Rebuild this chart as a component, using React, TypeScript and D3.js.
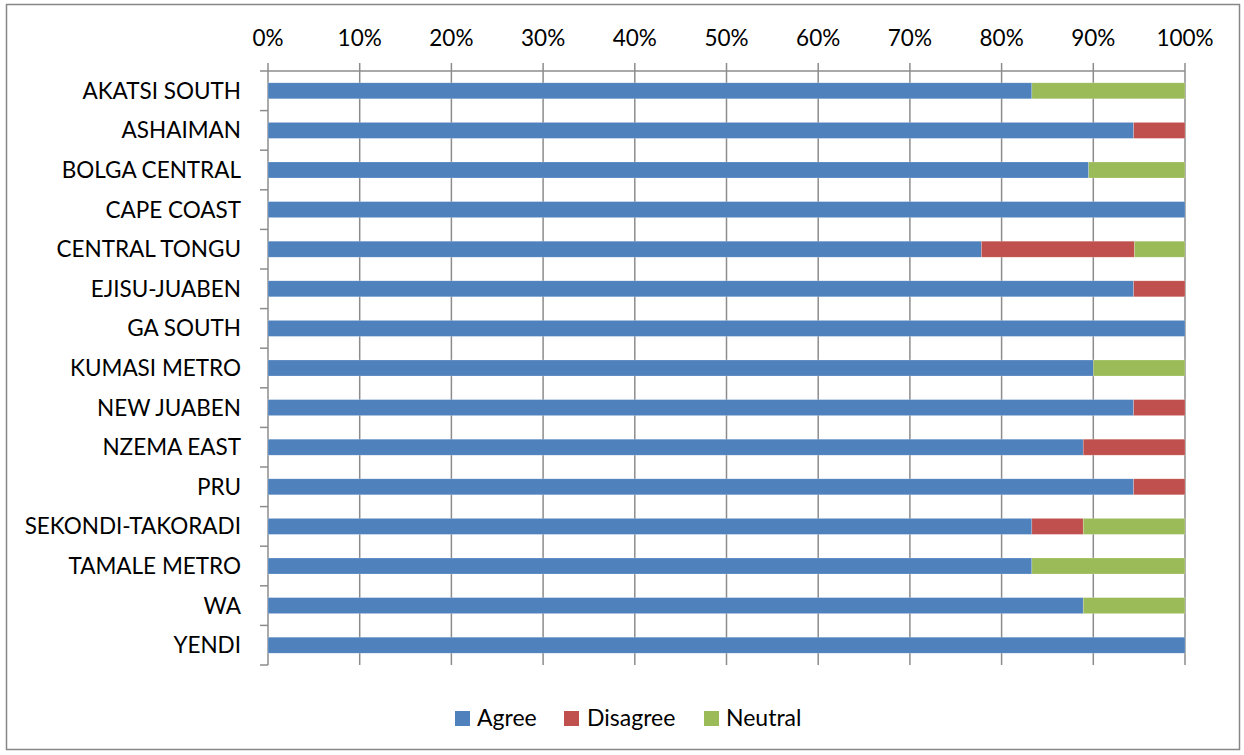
import React from "react";
import * as d3 from "d3";

const districts = [
  "AKATSI SOUTH",
  "ASHAIMAN",
  "BOLGA CENTRAL",
  "CAPE COAST",
  "CENTRAL TONGU",
  "EJISU-JUABEN",
  "GA SOUTH",
  "KUMASI METRO",
  "NEW JUABEN",
  "NZEMA EAST",
  "PRU",
  "SEKONDI-TAKORADI",
  "TAMALE METRO",
  "WA",
  "YENDI",
];

// Shares per district, in percent
const agree = [83.3, 94.4, 89.5, 100, 77.8, 94.4, 100, 90, 94.4, 88.9, 94.4, 83.3, 83.3, 88.9, 100];
const disagree = [0, 5.6, 0, 0, 16.7, 5.6, 0, 0, 5.6, 11.1, 5.6, 5.6, 0, 0, 0];
const neutral = [16.7, 0, 10.5, 0, 5.5, 0, 0, 10, 0, 0, 0, 11.1, 16.7, 11.1, 0];

const seriesNames = ["Agree", "Disagree", "Neutral"];
const seriesColors = ["#4F81BD", "#C0504D", "#9BBB59"];
const xTicks = [0, 10, 20, 30, 40, 50, 60, 70, 80, 90, 100];

const W = 1244;
const H = 755;
const FONT = "Lato, 'Open Sans', sans-serif";

export default function App() {
  const x = d3.scaleLinear().domain([0, 100]).range([268, 1185]);
  const y = d3.scaleBand<string>().domain(districts).range([71, 665]).paddingInner(0).paddingOuter(0);
  const barH = 16;

  const rows = districts.map((d, i) => ({ district: d, Agree: agree[i], Disagree: disagree[i], Neutral: neutral[i] }));
  const stack = d3.stack<any>().keys(seriesNames)(rows);

  const grid = "#8C8C8C";
  const legendItems = [
    { name: "Agree", sx: 455, tx: 477 },
    { name: "Disagree", sx: 564, tx: 587 },
    { name: "Neutral", sx: 704, tx: 726 },
  ];

  return (
    <svg width={W} height={H} style={{ position: "absolute", left: 0, top: 0 }} fontFamily={FONT}>
      <rect x={0} y={0} width={W} height={H} fill="#fff" />
      <rect x={6.5} y={4.5} width={1233} height={745} fill="#fff" stroke="#878787" strokeWidth={1.5} />

      {/* vertical gridlines + top ticks */}
      {xTicks.map((t) => (
        <line key={t} x1={x(t)} x2={x(t)} y1={63} y2={665} stroke={grid} strokeWidth={1.5} />
      ))}
      {/* top axis line */}
      <line x1={x(0)} x2={x(100)} y1={71} y2={71} stroke={grid} strokeWidth={1.5} />
      {/* category ticks */}
      {d3.range(districts.length + 1).map((k) => {
        const yy = 71 + k * y.bandwidth();
        return <line key={k} x1={260} x2={268} y1={yy} y2={yy} stroke={grid} strokeWidth={1.5} />;
      })}

      {/* stacked bars */}
      {stack.map((s, si) =>
        s.map((seg, i) => {
          const w = x(seg[1]) - x(seg[0]);
          if (w <= 0) return null;
          const yc = (y(districts[i]) as number) + y.bandwidth() / 2;
          return (
            <rect
              key={si + "-" + i}
              x={x(seg[0])}
              y={yc - barH / 2}
              width={w}
              height={barH}
              fill={seriesColors[si]}
              stroke="rgba(255,255,255,0.35)"
              strokeWidth={0.6}
            />
          );
        })
      )}

      {/* x tick labels */}
      {xTicks.map((t) => (
        <text key={t} x={x(t)} y={46} textAnchor="middle" fontSize={22.5} fill="#000">
          {t}%
        </text>
      ))}

      {/* category labels */}
      {districts.map((d) => (
        <text
          key={d}
          x={241}
          y={(y(d) as number) + y.bandwidth() / 2 + 8}
          textAnchor="end"
          fontSize={22.5}
          fill="#000"
        >
          {d}
        </text>
      ))}

      {/* legend */}
      {legendItems.map((l, i) => (
        <g key={l.name}>
          <rect x={l.sx} y={711} width={15} height={15} fill={seriesColors[i]} />
          <text x={l.tx} y={726} fontSize={23} fill="#000">
            {l.name}
          </text>
        </g>
      ))}
    </svg>
  );
}
